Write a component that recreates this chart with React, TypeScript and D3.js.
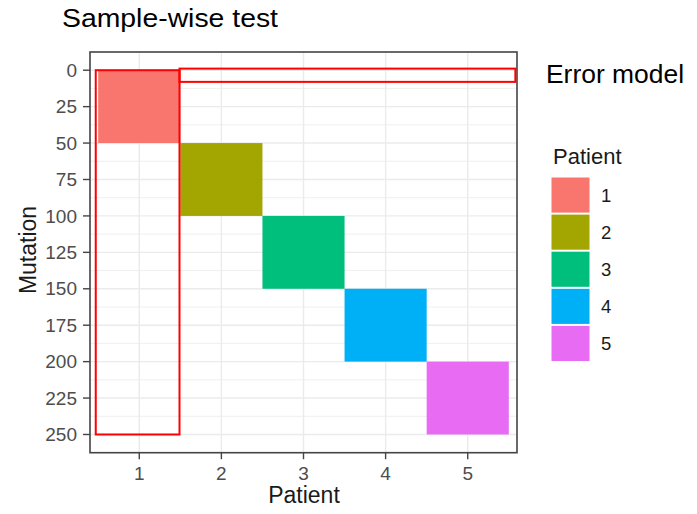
import React from "react";
import * as d3 from "d3";

// Patients and the mutation ranges each one owns
const patients = ["1", "2", "3", "4", "5"];
const mutationStart = [0, 50, 100, 150, 200];
const mutationEnd = [50, 100, 150, 200, 250];
const patientColors = ["#F8766D", "#A3A500", "#00BF7D", "#00B0F6", "#E76BF3"];

// Axis breaks
const yMajorTicks = [0, 25, 50, 75, 100, 125, 150, 175, 200, 225, 250];
const yMinorTicks = [12.5, 37.5, 62.5, 87.5, 112.5, 137.5, 162.5, 187.5, 212.5, 237.5, 262.5];

// Highlight boxes (x in patient units, y in mutation units)
const boxLabels = ["Sample-wise test", "Error model"];
const boxX0 = [0.47, 1.49];
const boxX1 = [1.49, 5.58];
const boxY0 = [0, -1.1];
const boxY1 = [250, 8];

const W = 697;
const H = 514;
const panel = { left: 90, right: 517, top: 52, bottom: 452.7 };
const FONT = "'Liberation Sans', Arial, sans-serif";

export default function App() {
  const x = d3.scaleLinear().domain([0.4, 5.6]).range([panel.left, panel.right]);
  const y = d3.scaleLinear().domain([-12.5, 262.5]).range([panel.top, panel.bottom]);
  const legendY = d3
    .scaleBand<string>()
    .domain(patients)
    .range([176.5, 176.5 + 37.1 * patients.length])
    .paddingInner(0);

  return (
    <svg
      width={W}
      height={H}
      style={{ position: "absolute", left: 0, top: 0, background: "#fff" }}
      fontFamily={FONT}
    >
      <rect x={0} y={0} width={W} height={H} fill="#fff" />

      {/* grid */}
      <g>
        {yMinorTicks.map((t) => (
          <line key={"ym" + t} x1={panel.left} x2={panel.right} y1={y(t)} y2={y(t)} stroke="#EBEBEB" strokeWidth={0.8} />
        ))}
        {yMajorTicks.map((t) => (
          <line key={"yM" + t} x1={panel.left} x2={panel.right} y1={y(t)} y2={y(t)} stroke="#EBEBEB" strokeWidth={1.4} />
        ))}
        {patients.map((p, i) => (
          <line key={"xM" + p} x1={x(i + 1)} x2={x(i + 1)} y1={panel.top} y2={panel.bottom} stroke="#EBEBEB" strokeWidth={1.4} />
        ))}
      </g>

      {/* tiles */}
      <g>
        {patients.map((p, i) => (
          <rect
            key={"tile" + p}
            x={x(i + 0.5)}
            y={y(mutationStart[i])}
            width={x(i + 1.5) - x(i + 0.5)}
            height={y(mutationEnd[i]) - y(mutationStart[i])}
            fill={patientColors[i]}
          />
        ))}
      </g>

      {/* panel border */}
      <rect
        x={panel.left}
        y={panel.top}
        width={panel.right - panel.left}
        height={panel.bottom - panel.top}
        fill="none"
        stroke="#444"
        strokeWidth={1.6}
      />

      {/* highlight boxes */}
      <g>
        {boxLabels.map((b, i) => (
          <rect
            key={"box" + b}
            x={x(boxX0[i])}
            y={y(boxY0[i])}
            width={x(boxX1[i]) - x(boxX0[i])}
            height={y(boxY1[i]) - y(boxY0[i])}
            fill="none"
            stroke="#FF0000"
            strokeWidth={2}
          />
        ))}
      </g>

      {/* y axis */}
      <g>
        {yMajorTicks.map((t) => (
          <g key={"yt" + t}>
            <line x1={panel.left - 7} x2={panel.left} y1={y(t)} y2={y(t)} stroke="#444" strokeWidth={1.4} />
            <text x={77} y={y(t)} dy="0.35em" textAnchor="end" fontSize={19} fill="#4D4D4D">
              {t}
            </text>
          </g>
        ))}
        <text
          transform={`translate(36,250) rotate(-90)`}
          textAnchor="middle"
          fontSize={23}
          fill="#1a1a1a"
        >
          Mutation
        </text>
      </g>

      {/* x axis */}
      <g>
        {patients.map((p, i) => (
          <g key={"xt" + p}>
            <line x1={x(i + 1)} x2={x(i + 1)} y1={panel.bottom} y2={panel.bottom + 6.5} stroke="#444" strokeWidth={1.4} />
            <text x={x(i + 1)} y={480} textAnchor="middle" fontSize={19} fill="#4D4D4D">
              {p}
            </text>
          </g>
        ))}
        <text x={304} y={503} textAnchor="middle" fontSize={23} fill="#1a1a1a">
          Patient
        </text>
      </g>

      {/* legend */}
      <g>
        <text x={553} y={164} fontSize={22} fill="#1a1a1a">
          Patient
        </text>
        {patients.map((p, i) => (
          <g key={"lg" + p}>
            <rect
              x={551.5}
              y={(legendY(p) as number) + 1}
              width={38}
              height={legendY.bandwidth() - 2}
              fill={patientColors[i]}
            />
            <text
              x={601}
              y={(legendY(p) as number) + legendY.bandwidth() / 2}
              dy="0.35em"
              fontSize={18.5}
              fill="#1a1a1a"
            >
              {p}
            </text>
          </g>
        ))}
      </g>

      {/* annotations */}
      <text x={62} y={26.7} fontSize={25} fill="#000" textLength={216} lengthAdjust="spacingAndGlyphs">
        {boxLabels[0]}
      </text>
      <text x={546} y={83.3} fontSize={25} fill="#000" textLength={138} lengthAdjust="spacingAndGlyphs">
        {boxLabels[1]}
      </text>
    </svg>
  );
}
